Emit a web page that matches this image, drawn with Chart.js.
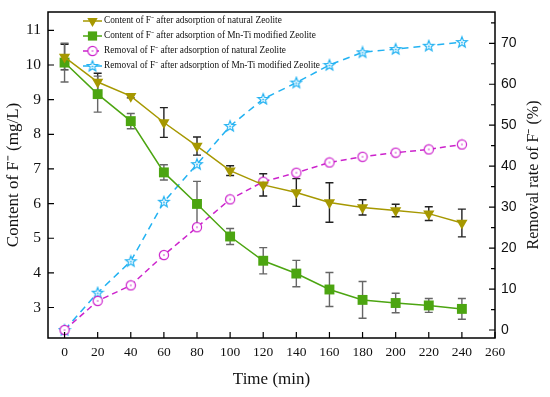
<!DOCTYPE html>
<html>
<head>
<meta charset="utf-8">
<script src="https://cdn.jsdelivr.net/npm/chart.js@4/dist/chart.umd.min.js"></script>
<style>
html,body{margin:0;padding:0;background:#fff;}
#wrap{width:550px;height:397px;position:relative;}
</style>
</head>
<body>
<div id="wrap"><canvas id="c" width="550" height="397"></canvas></div>
<script>
// ---- data ----
const times = [0, 20, 40, 60, 80, 100, 120, 140, 160, 180, 200, 220, 240];
const contentNatural = [10.23, 9.51, 9.10, 8.34, 7.66, 6.95, 6.54, 6.32, 6.03, 5.89, 5.80, 5.71, 5.44];
const contentNaturalErr = [0.37, 0.25, 0.05, 0.43, 0.26, 0.14, 0.32, 0.40, 0.57, 0.22, 0.18, 0.20, 0.40];
const contentMnTi = [10.07, 9.16, 8.38, 6.90, 5.99, 5.05, 4.35, 3.98, 3.52, 3.22, 3.13, 3.06, 2.96];
const contentMnTiErr = [0.56, 0.52, 0.22, 0.22, 0.65, 0.23, 0.38, 0.38, 0.49, 0.53, 0.28, 0.20, 0.30];
const removalNatural = [0, 7.1, 10.9, 18.3, 25.1, 31.9, 36.2, 38.4, 40.9, 42.3, 43.3, 44.1, 45.3];
const removalMnTi = [0, 9.1, 16.8, 31.3, 40.5, 49.8, 56.4, 60.4, 64.7, 67.8, 68.6, 69.4, 70.3];
const xTicks = [0, 20, 40, 60, 80, 100, 120, 140, 160, 180, 200, 220, 240, 260];
const leftTicks = [3, 4, 5, 6, 7, 8, 9, 10, 11];
const rightTicks = [0, 10, 20, 30, 40, 50, 60, 70];
const rightMinorTicks = [5, 15, 25, 35, 45, 55, 65, 75];
const seriesLabels = [
  'Content of F\u207B after adsorption of natural Zeolite',
  'Content of F\u207B after adsorption of Mn-Ti modified Zeolite',
  'Removal of F\u207B after adsorption of natural Zeolite',
  'Removal of F\u207B after adsorption of Mn-Ti modified Zeolite'
];
const rightTitle = 'Removal rate of F\u207B (%)';

const OLIVE = '#A69800', GREEN = '#4CA511', MAGENTA = '#CC22CC', BLUE = '#22B2F2';
const SERIF = '"Liberation Serif", "Times New Roman", serif';
const SANS = '"Liberation Sans", Arial, sans-serif';

function starImg(color) {
  const c = document.createElement('canvas'); c.width = 14; c.height = 14;
  const g = c.getContext('2d');
  g.beginPath();
  for (let i = 0; i < 10; i++) {
    const r = i % 2 === 0 ? 5.6 : 2.4;
    const a = -Math.PI / 2 + i * Math.PI / 5;
    const px = 7 + r * Math.cos(a), py = 7.3 + r * Math.sin(a);
    i === 0 ? g.moveTo(px, py) : g.lineTo(px, py);
  }
  g.closePath(); g.fillStyle = '#fff'; g.fill();
  g.strokeStyle = color; g.lineWidth = 1.2; g.stroke();
  g.beginPath(); g.arc(7, 7.5, 0.9, 0, Math.PI * 2); g.fillStyle = color; g.fill();
  return c;
}
function circleImg(color) {
  const c = document.createElement('canvas'); c.width = 12; c.height = 12;
  const g = c.getContext('2d');
  g.beginPath(); g.arc(6, 6, 4.6, 0, Math.PI * 2);
  g.fillStyle = '#fff'; g.fill(); g.strokeStyle = color; g.lineWidth = 1.2; g.stroke();
  g.beginPath(); g.arc(6, 6, 0.8, 0, Math.PI * 2); g.fillStyle = color; g.fill();
  return c;
}
const star = starImg(BLUE), circ = circleImg(MAGENTA);

const pts = (ys) => times.map((t, i) => ({x: t, y: ys[i]}));

const datasets = [
  {label: seriesLabels[0], data: pts(contentNatural), yAxisID: 'y', borderColor: OLIVE, backgroundColor: OLIVE,
   borderWidth: 1.5, pointStyle: 'triangle', rotation: 180, pointRadius: 6.5, pointBorderWidth: 0, errs: contentNaturalErr, errColor: '#222'},
  {label: seriesLabels[1], data: pts(contentMnTi), yAxisID: 'y', borderColor: GREEN, backgroundColor: GREEN,
   borderWidth: 1.5, pointStyle: 'rect', pointRadius: 7, pointBorderWidth: 0, errs: contentMnTiErr, errColor: '#666'},
  {label: seriesLabels[2], data: pts(removalNatural), yAxisID: 'y2', borderColor: MAGENTA, backgroundColor: MAGENTA,
   borderWidth: 1.5, borderDash: [6, 4], pointStyle: circ, pointRadius: 5},
  {label: seriesLabels[3], data: pts(removalMnTi), yAxisID: 'y2', borderColor: BLUE, backgroundColor: BLUE,
   borderWidth: 1.5, borderDash: [7, 5], pointStyle: star, pointRadius: 6}
];

const errorBars = {
  id: 'errorBars',
  beforeDatasetsDraw(chart) {
    const ctx = chart.ctx, xs = chart.scales.x, ys = chart.scales.y;
    chart.data.datasets.forEach((ds) => {
      if (!ds.errs) return;
      ctx.save(); ctx.strokeStyle = ds.errColor; ctx.lineWidth = 1.4;
      ds.data.forEach((p, i) => {
        const x = xs.getPixelForValue(p.x);
        const y1 = ys.getPixelForValue(p.y + ds.errs[i]);
        const y2 = ys.getPixelForValue(p.y - ds.errs[i]);
        ctx.beginPath();
        ctx.moveTo(x, y1); ctx.lineTo(x, y2);
        ctx.moveTo(x - 4, y1); ctx.lineTo(x + 4, y1);
        ctx.moveTo(x - 4, y2); ctx.lineTo(x + 4, y2);
        ctx.stroke();
      });
      ctx.restore();
    });
  }
};

const frameAndTicks = {
  id: 'frameAndTicks',
  afterDraw(chart) {
    const ctx = chart.ctx, a = chart.chartArea;
    const xs = chart.scales.x, ys = chart.scales.y, y2 = chart.scales.y2;
    ctx.save();
    ctx.strokeStyle = '#000'; ctx.lineWidth = 1.5;
    ctx.strokeRect(a.left, a.top, a.right - a.left, a.bottom - a.top);
    ctx.lineWidth = 1.2;
    ctx.beginPath();
    xTicks.forEach(v => { const x = xs.getPixelForValue(v); ctx.moveTo(x, a.bottom); ctx.lineTo(x, a.bottom - 6); });
    leftTicks.forEach(v => { const y = ys.getPixelForValue(v); ctx.moveTo(a.left, y); ctx.lineTo(a.left + 6, y); });
    rightTicks.forEach(v => { const y = y2.getPixelForValue(v); ctx.moveTo(a.right, y); ctx.lineTo(a.right - 6, y); });
    rightMinorTicks.forEach(v => { const y = y2.getPixelForValue(v); ctx.moveTo(a.right, y); ctx.lineTo(a.right - 4, y); });
    ctx.stroke();

    // right axis title (reads bottom-to-top)
    ctx.save();
    ctx.translate(534, (a.top + a.bottom) / 2);
    ctx.rotate(-Math.PI / 2);
    ctx.fillStyle = '#111'; ctx.font = '16px ' + SERIF;
    ctx.textAlign = 'center'; ctx.textBaseline = 'middle';
    ctx.fillText(rightTitle, 0, 0);
    ctx.restore();

    // legend
    const rows = [21, 36, 51, 66];
    chart.data.datasets.forEach((ds, i) => {
      const y = rows[i];
      ctx.save();
      ctx.strokeStyle = ds.borderColor; ctx.lineWidth = 1.5;
      ctx.setLineDash(ds.borderDash || []);
      ctx.beginPath(); ctx.moveTo(83, y); ctx.lineTo(102, y); ctx.stroke();
      ctx.setLineDash([]);
      ctx.fillStyle = ds.backgroundColor; ctx.strokeStyle = ds.borderColor;
      Chart.helpers.drawPoint(ctx, {pointStyle: ds.pointStyle, rotation: ds.rotation || 0,
        radius: ds.pointStyle === 'rect' ? 6.5 : 6, borderWidth: 0}, 92.5, y);
      ctx.restore();
      ctx.fillStyle = '#111'; ctx.font = '9.3px ' + SERIF;
      ctx.textBaseline = 'middle'; ctx.textAlign = 'left';
      ctx.fillText(ds.label, 104, y);
    });
    ctx.restore();
  }
};

const noPad = s => { s.paddingTop = 0; s.paddingBottom = 0; s.paddingLeft = 0; s.paddingRight = 0; };

new Chart(document.getElementById('c'), {
  type: 'line',
  data: {datasets},
  options: {
    responsive: false, animation: false,
    layout: {padding: {top: 12, left: 0, right: 0, bottom: 0}},
    plugins: {legend: {display: false}, tooltip: {enabled: false}},
    scales: {
      x: {
        type: 'linear', min: -10, max: 260,
        afterBuildTicks: s => { s.ticks = xTicks.map(v => ({value: v})); },
        afterFit: s => { s.height = 59; noPad(s); },
        grid: {display: false, drawTicks: false}, border: {display: false},
        ticks: {color: '#111', padding: 6, maxRotation: 0, font: {family: SERIF, size: 13.5}},
        title: {display: true, text: 'Time (min)', color: '#111', font: {family: SERIF, size: 17}, padding: {top: 0, bottom: 7}}
      },
      y: {
        type: 'linear', position: 'left', min: 2.12, max: 11.53,
        afterBuildTicks: s => { s.ticks = leftTicks.map(v => ({value: v})); },
        afterFit: s => { s.width = 48; noPad(s); },
        grid: {display: false, drawTicks: false}, border: {display: false},
        ticks: {color: '#111', padding: 7, font: {family: SERIF, size: 15.5}},
        title: {display: true, text: 'Content of F\u207B (mg/L)', color: '#111', font: {family: SERIF, size: 17}, padding: {top: 3, bottom: 0}}
      },
      y2: {
        type: 'linear', position: 'right', min: -1.95, max: 77.64,
        afterBuildTicks: s => { s.ticks = rightTicks.map(v => ({value: v})); },
        afterFit: s => { s.width = 55; noPad(s); },
        grid: {display: false, drawTicks: false}, border: {display: false},
        ticks: {color: '#111', padding: 6, font: {family: SANS, size: 14}},
        title: {display: false}
      }
    }
  },
  plugins: [errorBars, frameAndTicks]
});
</script>
</body>
</html>
